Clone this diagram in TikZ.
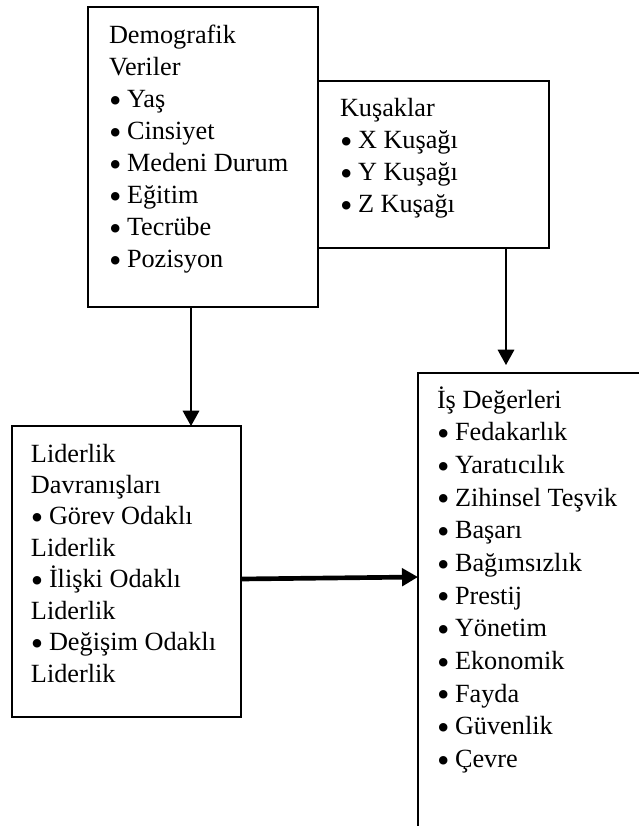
\documentclass[tikz,border=0pt]{standalone}
\usepackage{fontspec}
\setmainfont{Liberation Serif}
\usetikzlibrary{arrows.meta,fit}
\tikzset{
  box/.style={draw=black, line width=1.1pt, inner sep=0pt, outer sep=0pt},
  lbl/.style={anchor=north west, inner sep=0pt, outer sep=0pt, align=left},
  arr/.style={line width=0.9pt, -{Triangle[length=11.5pt,width=12.5pt]}},
  thickarr/.style={line width=3.5pt, -{Triangle[length=12pt,width=13pt]}},
}
\newcommand{\firstline}{\rule{0pt}{18pt}}
\newcommand{\bul}{\makebox[13.5pt][l]{\raisebox{-3.7pt}{\scalebox{1.35}{•}}}}
\begin{document}
\begin{tikzpicture}[x=0.75pt,y=-0.75pt]
\useasboundingbox (0,0) rectangle (639,826);
\clip (0,0) rectangle (639,826);
% boxes
\node[box, fit={(88,7) (318,307)}] (demo) {};
\node[box, fit={(318,81) (549,248)}] (kusak) {};
\node[box, fit={(12,426) (241,717)}] (lider) {};
\node[box, fit={(418,373) (700,900)}] (isdeg) {};
% texts
\node[lbl, font=\fontsize{19.7pt}{24.1pt}\selectfont] (tdemo) at (109,19)
  {\firstline Demografik\\Veriler\\\bul Yaş\\\bul Cinsiyet\\\bul Medeni Durum\\\bul Eğitim\\\bul Tecrübe\\\bul Pozisyon};
\node[lbl, font=\fontsize{19.7pt}{24.2pt}\selectfont] (tkusak) at (340,92)
  {\firstline Kuşaklar\\\bul X Kuşağı\\\bul Y Kuşağı\\\bul Z Kuşağı};
\node[lbl, font=\fontsize{19.7pt}{23.6pt}\selectfont] (tlider) at (31,438)
  {\firstline Liderlik\\Davranışları\\\bul Görev Odaklı\\Liderlik\\\bul İlişki Odaklı\\Liderlik\\\bul Değişim Odaklı\\Liderlik};
\node[lbl, font=\fontsize{19.7pt}{24.5pt}\selectfont] (tisdeg) at (437,384)
  {\firstline İş Değerleri\\\bul Fedakarlık\\\bul Yaratıcılık\\\bul Zihinsel Teşvik\\\bul Başarı\\\bul Bağımsızlık\\\bul Prestij\\\bul Yönetim\\\bul Ekonomik\\\bul Fayda\\\bul Güvenlik\\\bul Çevre};
% connector anchors
\coordinate (a1) at (191,0);
\coordinate (a2) at (506,0);
\coordinate (t1) at (0,579);
\coordinate (t2) at (0,577);
% connectors
\draw[arr] (demo.south -| a1) -- (lider.north -| a1);
\draw[arr, shorten >=6pt] (kusak.south -| a2) -- (isdeg.north -| a2);
\draw[thickarr] (lider.east |- t1) -- (isdeg.west |- t2);
\end{tikzpicture}
\end{document}
